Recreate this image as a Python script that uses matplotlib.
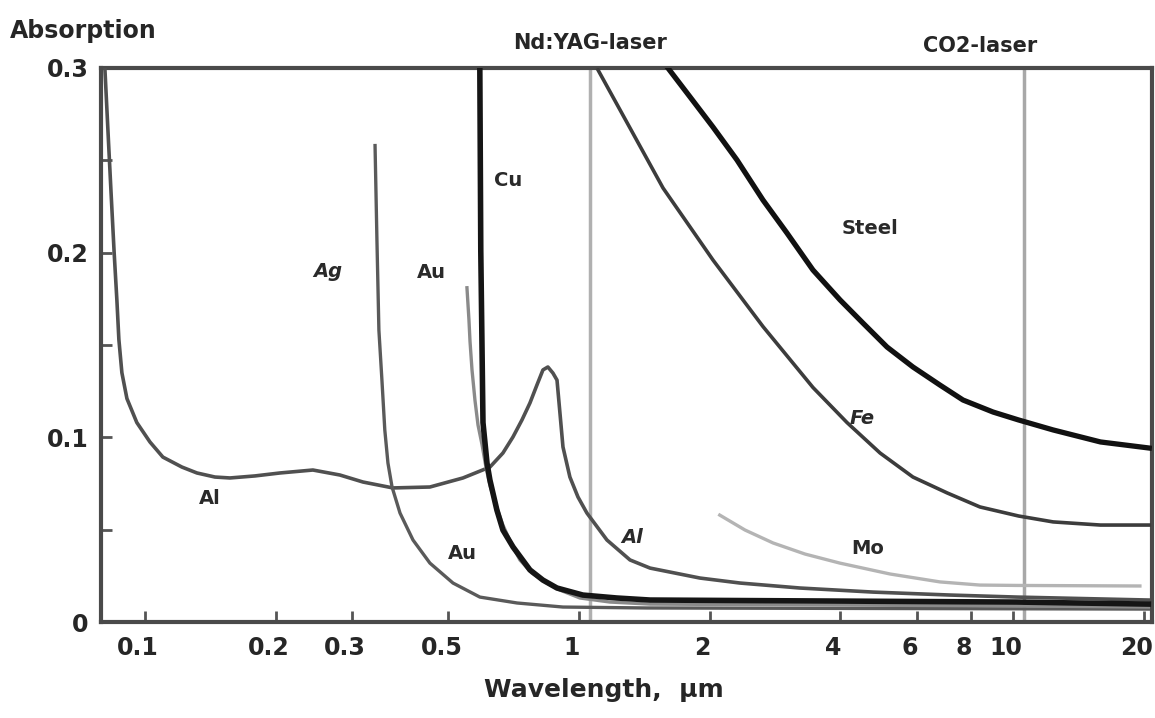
import matplotlib
matplotlib.use("Agg")
import matplotlib.pyplot as plt
import matplotlib.transforms as mtransforms

plt.rcParams['font.family'] = ['DejaVu Sans']

# Absorption of metals vs wavelength (um)
al_wl = [0.0809, 0.0822, 0.0835, 0.0849, 0.0862, 0.0871, 0.0885, 0.0909, 0.0958, 0.1027, 0.110, 0.1217,
         0.1318, 0.145, 0.157, 0.1793, 0.2047, 0.2438, 0.2813, 0.318, 0.3727, 0.4535, 0.5404, 0.6235,
         0.668, 0.7046, 0.739, 0.771, 0.80, 0.826, 0.848, 0.871, 0.89, 0.904, 0.9186, 0.953, 0.9947,
         1.043, 1.160, 1.311, 1.458, 1.90, 2.35, 3.23, 4.76, 7.16, 10.2, 20.5]
al_abs = [0.299, 0.266, 0.234, 0.201, 0.174, 0.153, 0.135, 0.121, 0.108, 0.0975, 0.0893, 0.0839,
          0.0807, 0.0785, 0.078, 0.0791, 0.0807, 0.0823, 0.0796, 0.0758, 0.0726, 0.0731, 0.078, 0.0839,
          0.0915, 0.1002, 0.1094, 0.1186, 0.1283, 0.1365, 0.1381, 0.1348, 0.131, 0.1132, 0.0948, 0.0785, 0.0677,
          0.059, 0.0444, 0.0336, 0.0292, 0.0238, 0.0211, 0.0184, 0.0162, 0.0146, 0.0135, 0.0119]

ag_wl = [0.339, 0.3424, 0.346, 0.3516, 0.357, 0.363, 0.371, 0.387, 0.4146, 0.4535, 0.5126, 0.5911,
         0.7199, 0.9186, 1.434, 20.5]
ag_abs = [0.258, 0.207, 0.158, 0.131, 0.104, 0.0861, 0.0731, 0.059, 0.0444, 0.0319, 0.0211, 0.0135,
          0.0103, 0.0081, 0.0076, 0.0070]

au_wl = [0.552, 0.5579, 0.561, 0.567, 0.576, 0.5853, 0.598, 0.6105, 0.6235, 0.6436, 0.668, 0.6973,
         0.731, 0.779, 0.835, 0.904, 1.005, 1.179, 1.458, 10.2, 20.5]
au_abs = [0.181, 0.1635, 0.152, 0.1365, 0.120, 0.1067, 0.096, 0.0839, 0.074, 0.0634, 0.0525, 0.0428,
          0.0336, 0.0265, 0.0217, 0.0173, 0.013, 0.0108, 0.0097, 0.0087, 0.0081]

cu_wl = [0.591, 0.594, 0.601, 0.614, 0.6235, 0.647, 0.668, 0.705, 0.771, 0.826, 0.89, 1.021, 1.223,
         1.458, 10.2, 20.5]
cu_abs = [0.300, 0.201, 0.108, 0.086, 0.0769, 0.0606, 0.0498, 0.0406, 0.0282, 0.0227, 0.0184, 0.0146,
          0.013, 0.0119, 0.0108, 0.0097]

fe_wl = [1.106, 1.311, 1.562, 2.036, 2.654, 3.46, 4.145, 4.94, 5.88, 7.05, 8.39, 10.3, 12.37, 15.9, 20.6]
fe_abs = [0.299, 0.2675, 0.235, 0.196, 0.160, 0.127, 0.108, 0.0915, 0.0785, 0.0699, 0.0623, 0.0574,
          0.0542, 0.0525, 0.0525]

steel_wl = [1.603, 1.803, 2.036, 2.312, 2.654, 3.015, 3.46, 3.995, 4.51, 5.125, 5.88, 6.787, 7.67,
            8.995, 10.3, 12.37, 15.9, 20.6]
steel_abs = [0.300, 0.2843, 0.268, 0.2502, 0.2285, 0.2106, 0.1906, 0.1744, 0.1619, 0.1489, 0.1381,
             0.1283, 0.1202, 0.1137, 0.1094, 0.104, 0.0975, 0.0942]

mo_wl = [2.11, 2.413, 2.80, 3.317, 3.99, 5.207, 6.79, 8.39, 10.2, 19.6]
mo_abs = [0.0579, 0.0498, 0.0428, 0.0368, 0.0319, 0.026, 0.0217, 0.020, 0.0198, 0.0195]

# laser lines
nd_yag = 1.06
co2 = 10.6

xticks = [0.1, 0.2, 0.3, 0.5, 1, 2, 4, 6, 8, 10, 20]
xtick_labels = ['0.1', '0.2', '0.3', '0.5', '1', '2', '4', '6', '8', '10', '20']
yticks = [0, 0.1, 0.2, 0.3]
ytick_labels = ['0', '0.1', '0.2', '0.3']

fig = plt.figure(figsize=(11.55, 7.18), dpi=100)
ax = fig.add_axes([0.0874, 0.1337, 0.91, 0.7716])

# vertical laser lines first so curves draw on top
ax.axvline(nd_yag, color='#b0b0b0', lw=2.5, zorder=1)
ax.axvline(co2, color='#a8a8a8', lw=2.5, zorder=1)

ax.plot(al_wl, al_abs, color='#505050', lw=2.6, zorder=3)
ax.plot(ag_wl, ag_abs, color='#5a5a5a', lw=2.4, zorder=3)
ax.plot(au_wl, au_abs, color='#8a8a8a', lw=2.4, zorder=3)
ax.plot(cu_wl, cu_abs, color='#151515', lw=4.0, zorder=4)
ax.plot(fe_wl, fe_abs, color='#3c3c3c', lw=2.6, zorder=3)
ax.plot(steel_wl, steel_abs, color='#111111', lw=3.8, zorder=3)
ax.plot(mo_wl, mo_abs, color='#b4b4b4', lw=2.4, zorder=2)

ax.set_xscale('log')
ax.set_xlim(0.0792, 20.9)
ax.set_ylim(0, 0.3)

ax.set_xticks(xticks)
ax.set_xticklabels(xtick_labels)
ax.xaxis.set_minor_locator(matplotlib.ticker.NullLocator())
ax.set_yticks(yticks)
ax.set_yticklabels(ytick_labels)
ax.set_yticks([0.05, 0.15, 0.25], minor=True)
ax.tick_params(axis='both', which='both', direction='in', length=8, width=2,
               color='#555555', labelsize=17, labelcolor='#262626')
ax.tick_params(axis='x', pad=10)
ax.tick_params(axis='y', pad=9)

# x labels sit a little left of their ticks
shift = mtransforms.ScaledTranslation(-5 / 72, 0, fig.dpi_scale_trans)
for t in ax.get_xticklabels():
    t.set_fontweight('bold')
    t.set_transform(t.get_transform() + shift)
for t in ax.get_yticklabels():
    t.set_fontweight('bold')

for s in ax.spines.values():
    s.set_linewidth(3)
    s.set_color('#4a4a4a')

# curve labels
lbl = dict(fontsize=14, color='#2a2a2a', ha='center', va='center', fontweight='bold')
ax.text(0.264, 0.190, 'Ag', style='italic', **lbl)
ax.text(0.458, 0.189, 'Au', **lbl)
ax.text(0.686, 0.239, 'Cu', **lbl)
ax.text(4.68, 0.213, 'Steel', **lbl)
ax.text(4.49, 0.110, 'Fe', style='italic', **lbl)
ax.text(4.63, 0.040, 'Mo', **lbl)
ax.text(0.141, 0.067, 'Al', **lbl)
ax.text(1.325, 0.046, 'Al', style='italic', **lbl)
ax.text(0.5375, 0.037, 'Au', **lbl)

# laser names above the frame
trans = mtransforms.blended_transform_factory(ax.transData, ax.transAxes)
ax.text(nd_yag, 1.045, 'Nd:YAG-laser', transform=trans, ha='center', va='center',
        fontsize=15, color='#262626', fontweight='bold')
ax.text(8.4, 1.04, 'CO2-laser', transform=trans, ha='center', va='center',
        fontsize=15, color='#262626', fontweight='bold')

fig.text(10 / 1155, 1 - 31 / 718, 'Absorption', ha='left', va='center', fontsize=17,
         color='#262626', fontweight='bold')
fig.text(604 / 1155, 1 - 690 / 718, 'Wavelength,  \u00b5m', ha='center', va='center',
         fontsize=18, color='#262626', fontweight='bold')

fig.savefig('out.png', dpi=100)
